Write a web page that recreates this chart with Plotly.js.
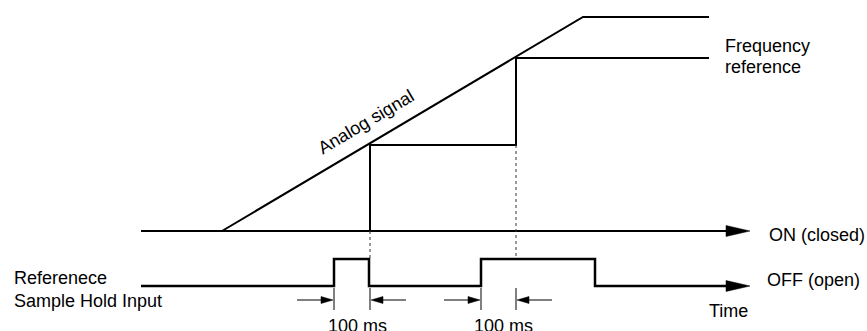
<!DOCTYPE html>
<html>
<head>
<meta charset="utf-8">
<script src="https://cdn.plot.ly/plotly-3.0.1.min.js"></script>
<style>html,body{margin:0;padding:0;background:#fff;}#chart{width:867px;height:331px;}</style>
</head>
<body>
<div id="chart"></div>
<script>
// ---- Data (time axis units / signal level units) ----
const analogTime = [222, 583, 709];
const analogLevel = [231, 17, 17];
const freqRefTime = [370, 370, 516, 516, 709];
const freqRefLevel = [231, 145, 145, 58, 58];
const axisStart = 141;
const axisEnd = 750;
const onAxisLevel = 231;
const offAxisLevel = 286;
const pulseHighLevel = 259;
const pulseStarts = [334, 481];
const pulseEnds = [369, 595];
const sampleTimes = [370, 516];
const sampleFromLevels = [231, 145];
const holdStarts = [334, 481];
const holdEnds = [370, 516];
const holdLabel = "100 ms";
const dimLevel = 300;

const K = 'black';
const traces = [];
function line(x, y, w, dash, color) {
  traces.push({type: 'scatter', mode: 'lines', x: x, y: y, hoverinfo: 'skip',
    line: {color: color || K, width: w, dash: dash || 'solid'}, showlegend: false});
}
function head(tipX, tipY, dir, len, half) {
  const bx = tipX - dir * len;
  traces.push({type: 'scatter', mode: 'lines', x: [bx, tipX, bx, bx], y: [tipY - half, tipY, tipY + half, tipY - half],
    fill: 'toself', fillcolor: K, line: {color: K, width: 0.5}, hoverinfo: 'skip', showlegend: false});
}

// analog signal
line(analogTime, analogLevel, 2);
// frequency reference
line(freqRefTime, freqRefLevel, 2);
// ON axis
line([axisStart, axisEnd - 20], [onAxisLevel, onAxisLevel], 2);
head(axisEnd, onAxisLevel, 1, 24, 5.5);
// sample hold pulse train
const px = [axisStart], py = [offAxisLevel];
pulseStarts.forEach((s, i) => {
  px.push(s, s, pulseEnds[i], pulseEnds[i]);
  py.push(offAxisLevel, pulseHighLevel, pulseHighLevel, offAxisLevel);
});
px.push(axisEnd - 20); py.push(offAxisLevel);
line(px, py, 2.5);
head(axisEnd, offAxisLevel, 1, 24, 5.5);
// dotted guides
sampleTimes.forEach((t, i) => line([t, t], [sampleFromLevels[i], pulseHighLevel], 1, 'dot', '#333'));
// dimension arrows
const annotations = [];
holdStarts.forEach((s, i) => {
  const e = holdEnds[i];
  line([s, s], [288, 310], 1);
  line([e, e], [288, 310], 1);
  line([s - 37, s - 10], [dimLevel, dimLevel], 1);
  head(s - 1, dimLevel, 1, 12, 3.5);
  line([e + 10, e + 36], [dimLevel, dimLevel], 1);
  head(e + 1, dimLevel, -1, 12, 3.5);
  annotations.push({x: (s + e) / 2 + 5, y: 326, text: holdLabel});
});

const F = {family: 'Liberation Sans, Arial, sans-serif', size: 18, color: K};
annotations.push(
  {x: 723, y: 46, text: 'Frequency', xanchor: 'left'},
  {x: 723, y: 67, text: 'reference', xanchor: 'left'},
  {x: 767, y: 235, text: 'ON (closed)', xanchor: 'left'},
  {x: 765, y: 280, text: 'OFF (open)', xanchor: 'left'},
  {x: 707, y: 311, text: 'Time', xanchor: 'left'},
  {x: 12, y: 278, text: 'Referenece', xanchor: 'left'},
  {x: 12, y: 301, text: 'Sample Hold Input', xanchor: 'left'},
  {x: 366, y: 122, text: 'Analog signal', textangle: -30.7}
);
annotations.forEach(a => {
  a.xref = 'x'; a.yref = 'y'; a.showarrow = false; a.font = F;
  if (!a.xanchor) a.xanchor = 'center';
  a.yanchor = 'middle';
});

const layout = {
  width: 867, height: 331,
  margin: {l: 0, r: 0, t: 0, b: 0},
  paper_bgcolor: 'white', plot_bgcolor: 'white',
  xaxis: {range: [0, 867], visible: false, fixedrange: true},
  yaxis: {range: [331, 0], visible: false, fixedrange: true},
  showlegend: false,
  annotations: annotations
};
Plotly.newPlot('chart', traces, layout, {staticPlot: true, displayModeBar: false});
</script>
</body>
</html>
